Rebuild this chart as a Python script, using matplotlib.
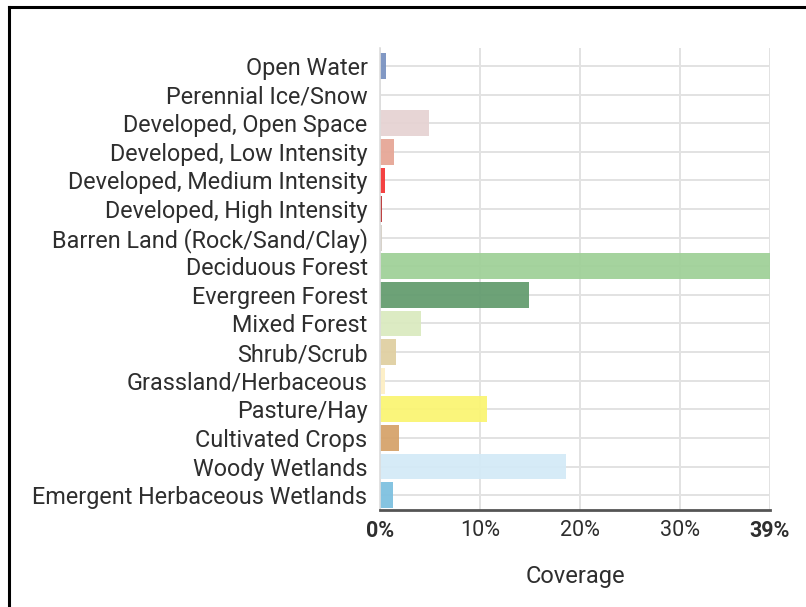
import matplotlib.pyplot as plt
from matplotlib.lines import Line2D

plt.rcParams["font.family"] = ["Roboto", "DejaVu Sans"]

# %% data
classes = [
    "Open Water",
    "Perennial Ice/Snow",
    "Developed, Open Space",
    "Developed, Low Intensity",
    "Developed, Medium Intensity",
    "Developed, High Intensity",
    "Barren Land (Rock/Sand/Clay)",
    "Deciduous Forest",
    "Evergreen Forest",
    "Mixed Forest",
    "Shrub/Scrub",
    "Grassland/Herbaceous",
    "Pasture/Hay",
    "Cultivated Crops",
    "Woody Wetlands",
    "Emergent Herbaceous Wetlands",
]
coverage = [0.6, 0.0, 4.9, 1.4, 0.5, 0.2, 0.2, 39.0, 14.9, 4.1, 1.6, 0.5, 10.7, 1.9, 18.6, 1.3]
colors = [
    "#7a93c1", "#ffffff", "#e6d3d3", "#e6a797", "#f43737", "#bb3838",
    "#d5d0c6", "#a0d199", "#659d70", "#daeac0", "#e0d0a2", "#fdefc4",
    "#faf574", "#d6a36b", "#d4eaf7", "#7fc1e0",
]
tick_vals = [0, 10, 20, 30, 39]
tick_labels = ["0%", "10%", "20%", "30%", "39%"]

# %% figure
fig = plt.figure(figsize=(8.06, 6.07), dpi=100)
ax = fig.add_axes([380 / 806, 1 - 510 / 607, 390 / 806, 462 / 607])

ypos = list(range(len(classes)))
ax.barh(ypos, coverage, height=0.9, color=colors, alpha=0.95, zorder=2)

ax.set_xlim(0, 39)
ax.set_ylim(len(classes) - 0.48, -0.63)
ax.set_yticks(ypos)
ax.set_yticklabels(classes, fontsize=16.8, color="#2e2e2e")
ax.set_xticks(tick_vals)
ax.set_xticklabels(tick_labels, fontsize=15.5, color="#2e2e2e")
for lbl in ax.get_xticklabels():
    if lbl.get_text() in ("0%", "39%"):
        lbl.set_fontweight("bold")
ax.tick_params(axis="both", length=0)
ax.tick_params(axis="y", pad=9)
ax.tick_params(axis="x", pad=7)

ax.grid(True, color="#e2e2e2", linewidth=1.4, zorder=0)
ax.set_axisbelow(True)

for side in ("top", "right"):
    ax.spines[side].set_visible(False)
ax.spines["left"].set_color("#dddddd")
ax.spines["left"].set_linewidth(1.2)
ax.spines["bottom"].set_color("#555555")
ax.spines["bottom"].set_linewidth(2)

ax.set_xlabel("Coverage", fontsize=17, color="#2e2e2e", labelpad=17)

# screenshot frame (top and left edges only)
fig.add_artist(Line2D([8.5 / 806, 1], [1 - 6.5 / 607] * 2, color="black", linewidth=2.2))
fig.add_artist(Line2D([8.5 / 806] * 2, [0, 1 - 6.5 / 607], color="black", linewidth=2.2))

fig.savefig("out.png", dpi=100)
